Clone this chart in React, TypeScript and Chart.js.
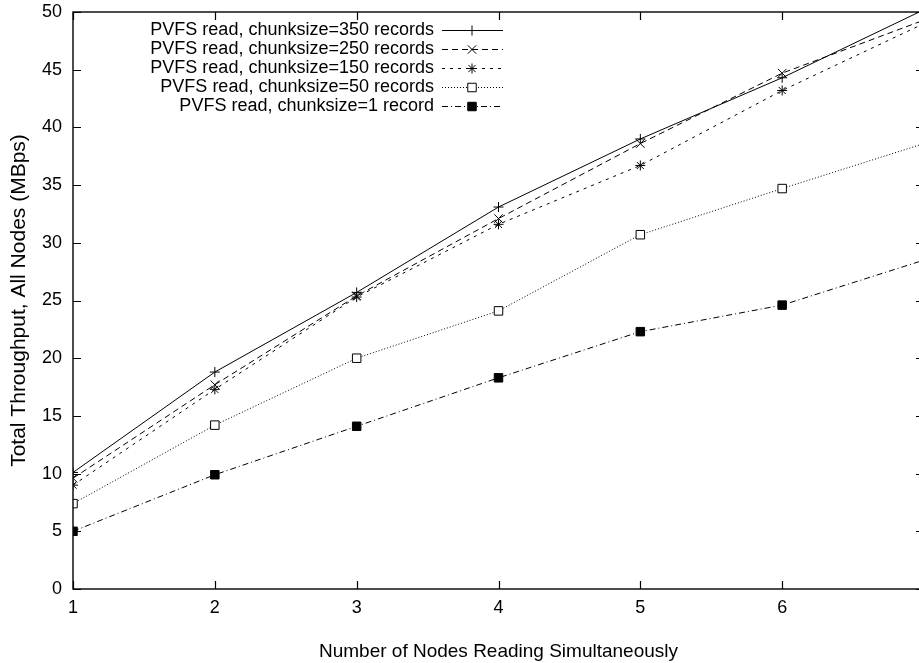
import React, { useEffect, useRef } from 'react';
import { Chart, registerables } from 'chart.js';

Chart.register(...registerables);

const nodes = [1, 2, 3, 4, 5, 6, 7];
const chunk350 = [10.1, 18.8, 25.7, 33.1, 39.0, 44.3, 50.2];
const chunk250 = [9.6, 17.7, 25.4, 32.1, 38.6, 44.7, 49.3];
const chunk150 = [9.0, 17.3, 25.3, 31.6, 36.7, 43.2, 49.0];
const chunk50 = [7.4, 14.2, 20.0, 24.1, 30.7, 34.7, 38.6];
const chunk1 = [5.0, 9.9, 14.1, 18.3, 22.3, 24.6, 28.5];

const seriesLabels = [
  'PVFS read, chunksize=350 records',
  'PVFS read, chunksize=250 records',
  'PVFS read, chunksize=150 records',
  'PVFS read, chunksize=50 records',
  'PVFS read, chunksize=1 record',
];
const xTitle = 'Number of Nodes Reading Simultaneously';
const yTitle = 'Total Throughput, All Nodes (MBps)';

const FONT = '"Liberation Sans", Arial, Helvetica, sans-serif';
const FSIZE = 18;

function drawMarker(ctx: CanvasRenderingContext2D, style: string, x: number, y: number, r: number, fill: string) {
  ctx.beginPath();
  const d = r * Math.SQRT1_2;
  if (style === 'cross' || style === 'star') {
    ctx.moveTo(x - r, y); ctx.lineTo(x + r, y);
    ctx.moveTo(x, y - r); ctx.lineTo(x, y + r);
  }
  if (style === 'crossRot' || style === 'star') {
    ctx.moveTo(x - d, y - d); ctx.lineTo(x + d, y + d);
    ctx.moveTo(x - d, y + d); ctx.lineTo(x + d, y - d);
  }
  if (style === 'rect') {
    ctx.rect(x - d, y - d, 2 * d, 2 * d);
    ctx.fillStyle = fill;
    ctx.fill();
  }
  ctx.stroke();
}

const gnuFrame = {
  id: 'gnuFrame',
  afterDatasetsDraw(chart: any) {
    const { ctx, chartArea: a, scales } = chart;
    ctx.save();
    ctx.strokeStyle = '#000';
    ctx.lineWidth = 1.4;
    ctx.setLineDash([]);
    ctx.strokeRect(a.left, a.top, a.right - a.left, a.bottom - a.top);
    const tl = 8;
    ctx.lineWidth = 1.2;
    ctx.beginPath();
    for (const t of scales.y.ticks) {
      const py = Math.round(scales.y.getPixelForValue(t.value)) + 0.5;
      ctx.moveTo(a.left, py); ctx.lineTo(a.left + tl, py);
      ctx.moveTo(a.right, py); ctx.lineTo(a.right - tl, py);
    }
    for (const t of scales.x.ticks) {
      const px = Math.round(scales.x.getPixelForValue(t.value)) + 0.5;
      ctx.moveTo(px, a.bottom); ctx.lineTo(px, a.bottom - tl);
      ctx.moveTo(px, a.top); ctx.lineTo(px, a.top + tl);
    }
    ctx.stroke();
    ctx.restore();
  },
  afterDraw(chart: any) {
    const { ctx } = chart;
    ctx.save();
    ctx.font = `${FSIZE}px ${FONT}`;
    ctx.textAlign = 'right';
    ctx.textBaseline = 'middle';
    chart.data.datasets.forEach((ds: any, i: number) => {
      const y = 30 + 19 * i;
      ctx.fillStyle = '#000';
      ctx.fillText(ds.label, 434, y);
      ctx.strokeStyle = '#000';
      ctx.lineWidth = 1;
      ctx.setLineDash(ds.borderDash || []);
      ctx.beginPath();
      ctx.moveTo(442, y + 0.5);
      ctx.lineTo(503, y + 0.5);
      ctx.stroke();
      ctx.setLineDash([]);
      drawMarker(ctx, ds.pointStyle, 472, y + 0.5, ds.pointRadius, ds.pointBackgroundColor);
    });
    ctx.restore();
  },
};

const App: React.FC = () => {
  const ref = useRef<HTMLCanvasElement | null>(null);
  useEffect(() => {
    document.body.style.margin = '0';
    if (!ref.current) return;
    const mk = (vals: number[]) => nodes.map((x, i) => ({ x, y: vals[i] }));
    const base = { borderColor: '#000', borderWidth: 1, pointBorderColor: '#000', pointBorderWidth: 1, fill: false, tension: 0 };
    const chart = new Chart(ref.current, {
      type: 'line',
      data: {
        datasets: [
          { ...base, label: seriesLabels[0], data: mk(chunk350), pointStyle: 'cross', pointRadius: 5, pointBackgroundColor: '#000', borderDash: [] },
          { ...base, label: seriesLabels[1], data: mk(chunk250), pointStyle: 'crossRot', pointRadius: 6, pointBackgroundColor: '#000', borderDash: [6, 4] },
          { ...base, label: seriesLabels[2], data: mk(chunk150), pointStyle: 'star', pointRadius: 5, pointBackgroundColor: '#000', borderDash: [3, 5] },
          { ...base, label: seriesLabels[3], data: mk(chunk50), pointStyle: 'rect', pointRadius: 6, pointBackgroundColor: '#fff', borderDash: [1, 2] },
          { ...base, label: seriesLabels[4], data: mk(chunk1), pointStyle: 'rect', pointRadius: 6, pointBackgroundColor: '#000', borderDash: [6, 3, 1, 3] },
        ] as any,
      },
      options: {
        animation: false,
        responsive: true,
        maintainAspectRatio: false,
        layout: { padding: { top: 12, right: 16, left: 0, bottom: 0 } },
        plugins: { legend: { display: false }, tooltip: { enabled: false } },
        scales: {
          x: {
            type: 'linear',
            min: 1,
            max: 7,
            grid: { display: false, drawTicks: false },
            border: { display: false },
            ticks: { stepSize: 1, padding: 8, color: '#000', font: { family: FONT, size: FSIZE }, maxRotation: 0 },
            title: { display: true, text: xTitle, color: '#000', font: { family: FONT, size: 19 }, padding: { top: 0, bottom: 0 } },
            afterFit: (s: any) => { s.height = 74; s.paddingLeft = 0; s.paddingRight = 0; },
          },
          y: {
            type: 'linear',
            min: 0,
            max: 50,
            grid: { display: false, drawTicks: false },
            border: { display: false },
            ticks: { stepSize: 5, padding: 11, color: '#000', font: { family: FONT, size: FSIZE } },
            title: { display: true, text: yTitle, color: '#000', font: { family: FONT, size: 21 }, padding: { top: 7, bottom: 0 } },
            afterFit: (s: any) => { s.width = 73; s.paddingTop = 0; s.paddingBottom = 0; },
          },
        },
      } as any,
      plugins: [gnuFrame],
    });
    return () => chart.destroy();
  }, []);
  return (
    <div style={{ width: 919, height: 663, overflow: 'hidden', position: 'relative', background: '#fff' }}>
      <div style={{ width: 940, height: 663, position: 'relative' }}>
        <canvas ref={ref} />
      </div>
    </div>
  );
};

export default App;
